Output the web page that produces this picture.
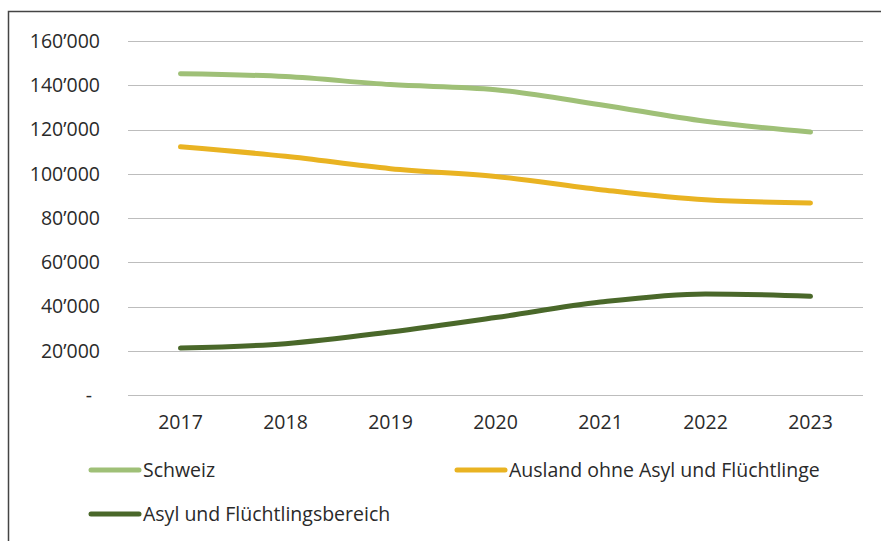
<!DOCTYPE html>
<html>
<head>
<meta charset="utf-8">
<script src="https://cdn.jsdelivr.net/npm/d3@7"></script>
<style>
  body { margin: 0; background: #fff; }
  text { font-family: 'Open Sans', sans-serif; fill: #2a2a2a; }
</style>
</head>
<body>
<div id="chart"></div>
<script>
const years = ['2017', '2018', '2019', '2020', '2021', '2022', '2023']
const schweiz = [145200, 143900, 140300, 138000, 131200, 123700, 118900]
const ausland = [112200, 107900, 102300, 98800, 92800, 88200, 86800]
const asyl = [21200, 23200, 28500, 35000, 42000, 45700, 44600]
const yTicks = [0, 20000, 40000, 60000, 80000, 100000, 120000, 140000, 160000]
const seriesNames = ['Schweiz', 'Ausland ohne Asyl und Flüchtlinge', 'Asyl und Flüchtlingsbereich']
const colors = ['#9fc077', '#e9b322', '#4a682a']

const width = 881
const height = 541
const margin = { top: 41, left: 128, right: 18, bottom: 146 }
const fontSize = 19.5

const svg = d3
  .select('#chart')
  .append('svg')
  .attr('width', width)
  .attr('height', height)

// frame (top and left edge visible)
svg
  .append('path')
  .attr('d', `M8.5,${height} V11.5 H${width}`)
  .attr('fill', 'none')
  .attr('stroke', '#444')
  .attr('stroke-width', 1.5)

const xScale = d3
  .scaleBand()
  .domain(years)
  .range([margin.left, width - margin.right])

const yScale = d3
  .scaleLinear()
  .domain([0, 160000])
  .range([height - margin.bottom, margin.top])

const fmt = d => (d === 0 ? '-' : d3.format(',')(d).replace(/,/g, '\u2019'))

// gridlines
svg
  .append('g')
  .selectAll('line')
  .data(yTicks)
  .enter()
  .append('line')
  .attr('x1', margin.left)
  .attr('x2', width - margin.right)
  .attr('y1', d => Math.round(yScale(d)) + 0.5)
  .attr('y2', d => Math.round(yScale(d)) + 0.5)
  .attr('stroke', '#bdbdbd')
  .attr('stroke-width', 1)

// y labels
svg
  .append('g')
  .selectAll('text')
  .data(yTicks)
  .enter()
  .append('text')
  .attr('x', d => (d === 0 ? 92 : 100))
  .attr('y', d => yScale(d))
  .attr('dy', '0.35em')
  .attr('text-anchor', 'end')
  .attr('font-size', fontSize)
  .text(fmt)

// x labels
svg
  .append('g')
  .selectAll('text')
  .data(years)
  .enter()
  .append('text')
  .attr('x', d => xScale(d) + xScale.bandwidth() / 2)
  .attr('y', 429)
  .attr('text-anchor', 'middle')
  .attr('font-size', fontSize)
  .text(d => d)

const line = d3
  .line()
  .x((d, i) => xScale(years[i]) + xScale.bandwidth() / 2)
  .y(d => yScale(d))
  .curve(d3.curveMonotoneX)

const series = [schweiz, ausland, asyl]

svg
  .append('g')
  .selectAll('path')
  .data(series)
  .enter()
  .append('path')
  .attr('d', d => line(d))
  .attr('fill', 'none')
  .attr('stroke', (d, i) => colors[i])
  .attr('stroke-width', 5)
  .attr('stroke-linecap', 'round')
  .attr('stroke-linejoin', 'round')

// legend
const legendPos = [
  { x: 89, y: 470 },
  { x: 455, y: 470 },
  { x: 89, y: 514 }
]

const legend = svg
  .append('g')
  .selectAll('g')
  .data(seriesNames)
  .enter()
  .append('g')
  .attr('transform', (d, i) => `translate(${legendPos[i].x},${legendPos[i].y})`)

legend
  .append('line')
  .attr('x1', 2)
  .attr('x2', 50)
  .attr('stroke', (d, i) => colors[i])
  .attr('stroke-width', 5)
  .attr('stroke-linecap', 'round')

legend
  .append('text')
  .attr('x', 54)
  .attr('dy', '0.35em')
  .attr('font-size', fontSize)
  .text(d => d)
</script>
</body>
</html>
